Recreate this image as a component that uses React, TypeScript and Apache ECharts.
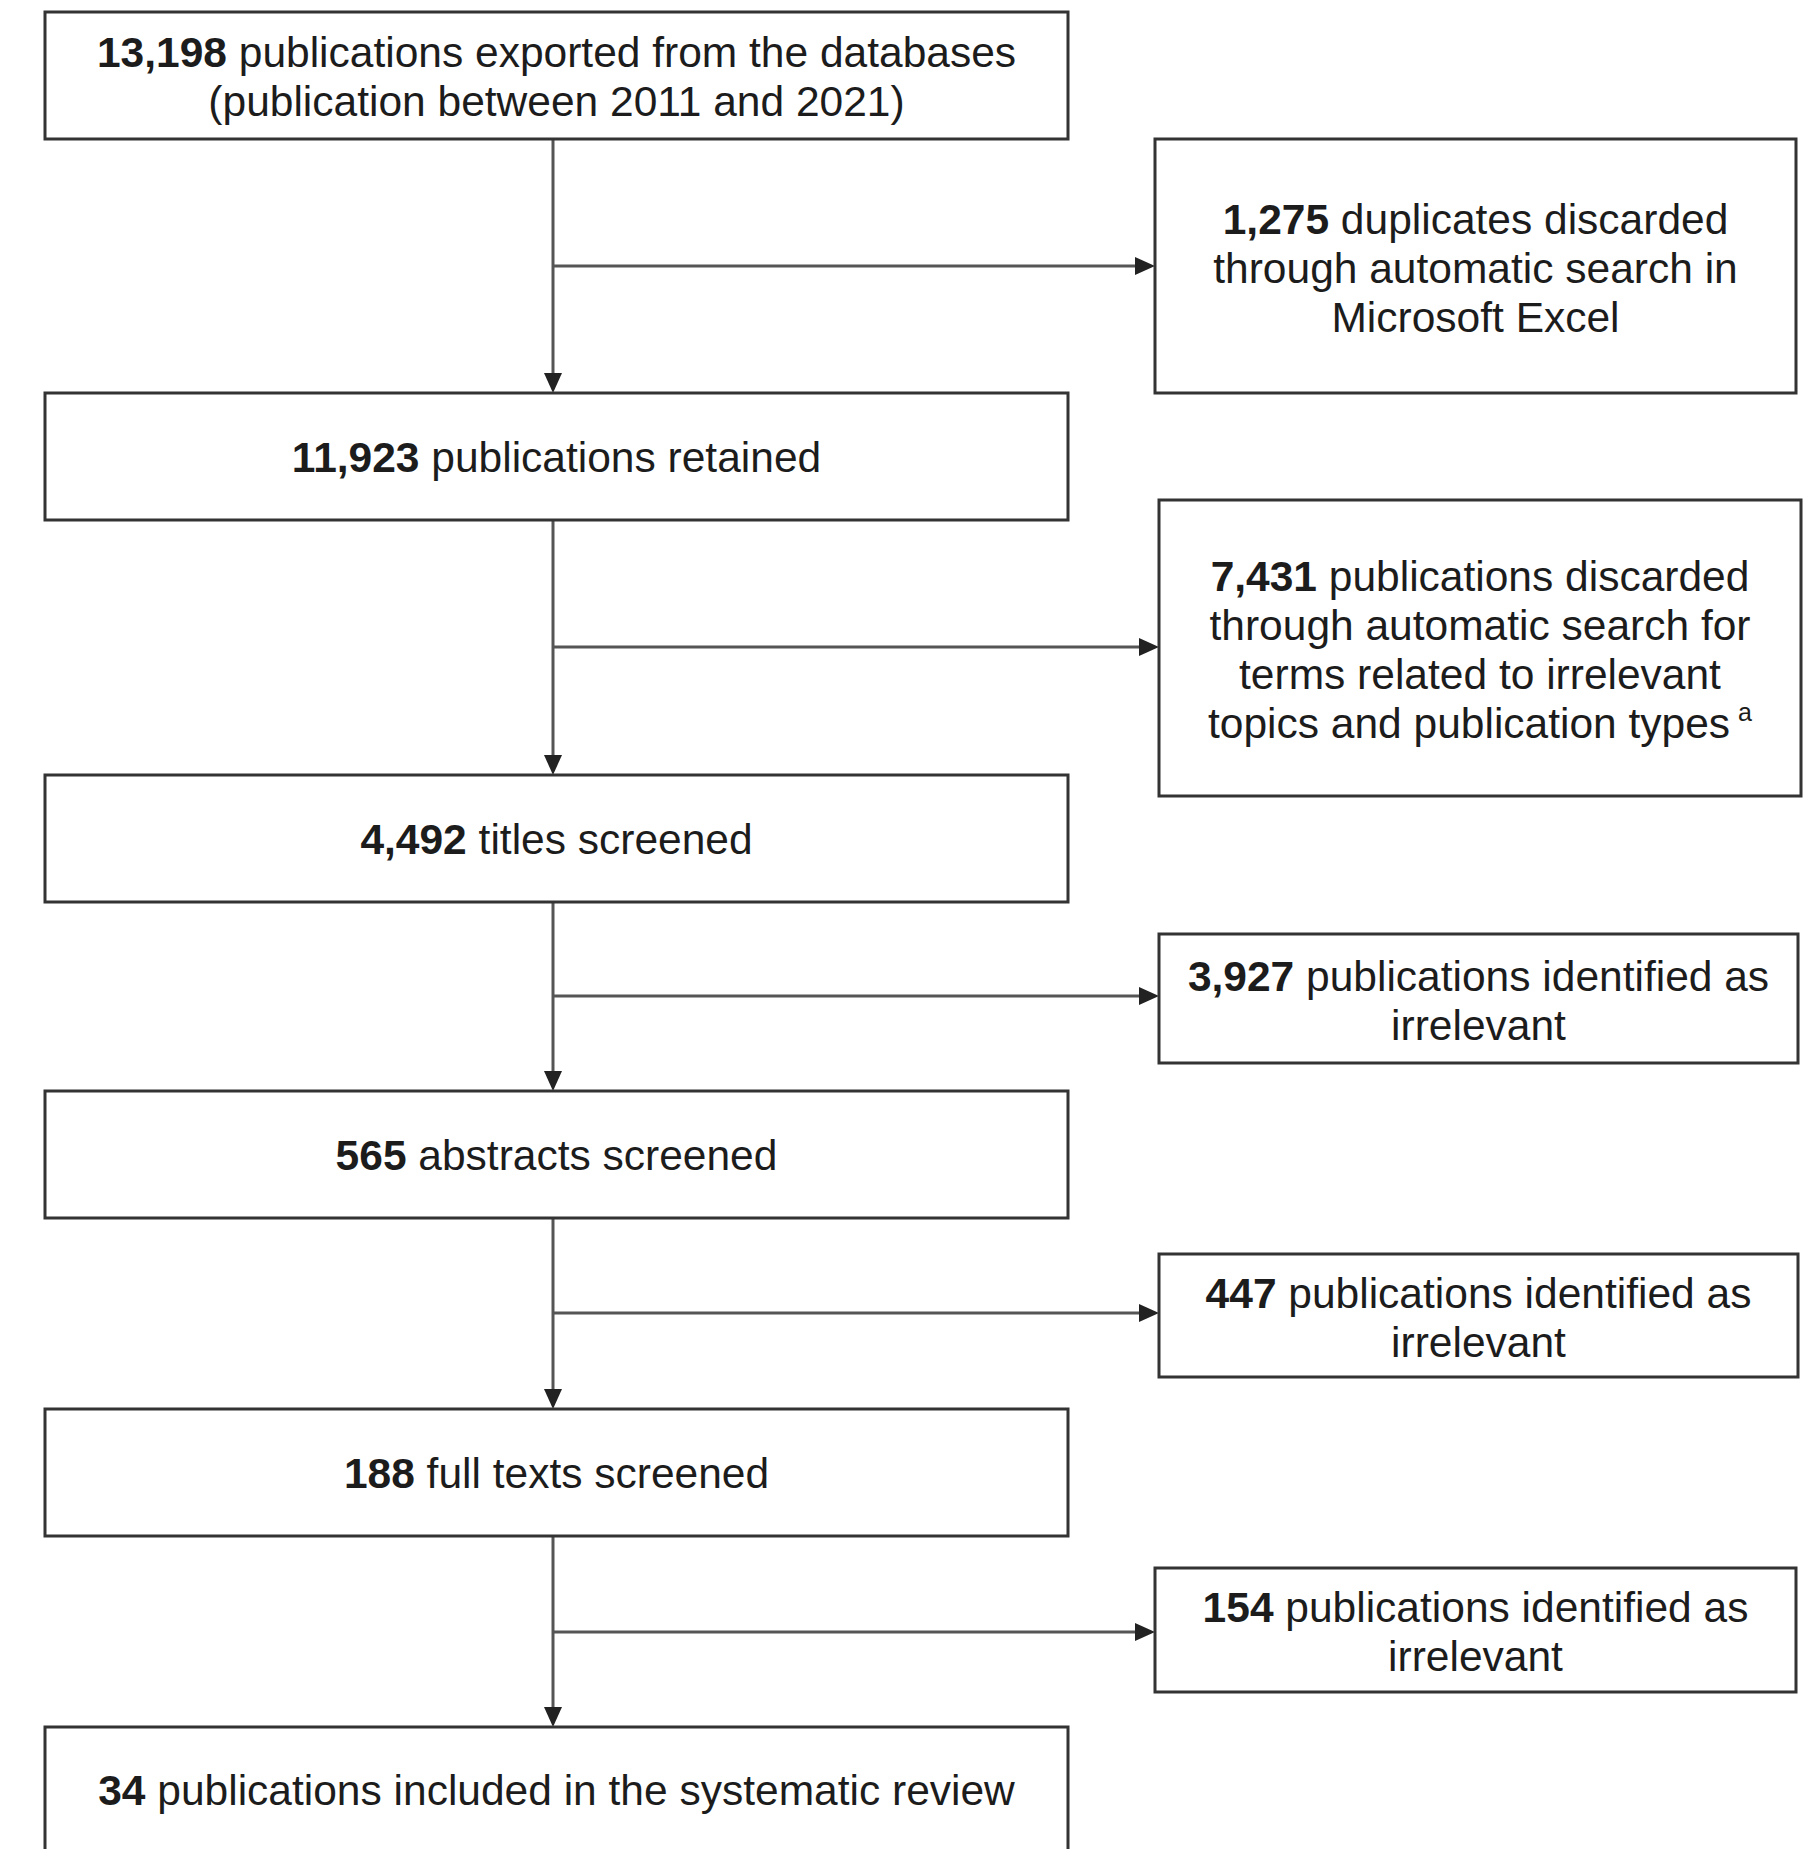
import React, { useEffect, useRef } from "react";
import * as echarts from "echarts";

// Flow data
const mainCounts = ["13,198", "11,923", "4,492", "565", "188", "34"];
const mainTexts = [
  " publications exported from the databases\n(publication between 2011 and 2021)",
  " publications retained",
  " titles screened",
  " abstracts screened",
  " full texts screened",
  " publications included in the systematic review",
];
const excludedCounts = ["1,275", "7,431", "3,927", "447", "154"];
const excludedTexts = [
  " duplicates discarded\nthrough automatic search in\nMicrosoft Excel",
  " publications discarded\nthrough automatic search for\nterms related to irrelevant\ntopics and publication types{sup|a}",
  " publications identified as\nirrelevant",
  " publications identified as\nirrelevant",
  " publications identified as\nirrelevant",
];

// Layout (pixels)
const mainBoxes = [
  { y: 12, h: 127 },
  { y: 393, h: 127 },
  { y: 775, h: 127 },
  { y: 1091, h: 127 },
  { y: 1409, h: 127 },
  { y: 1727, h: 160 },
];
const exBoxes = [
  { x: 1155, w: 641, y: 139, h: 254, arrowY: 266 },
  { x: 1159, w: 642, y: 500, h: 296, arrowY: 647 },
  { x: 1159, w: 639, y: 934, h: 129, arrowY: 996 },
  { x: 1159, w: 639, y: 1254, h: 123, arrowY: 1313 },
  { x: 1155, w: 641, y: 1568, h: 124, arrowY: 1632 },
];

const MAIN_X = 45;
const MAIN_W = 1023;
const TRUNK_X = 553;
const FONT = "'Liberation Sans', Arial, Helvetica, sans-serif";
const FS = 42.5;
const LH = 49;

function App() {
  const ref = useRef<HTMLDivElement>(null);
  useEffect(() => {
    document.body.style.margin = "0";
    if (!ref.current) return;
    const chart = echarts.init(ref.current, undefined, { renderer: "svg" });
    const rich = {
      b: { fontWeight: "bold", fontSize: FS, fontFamily: FONT, fill: "#1c1c1c", lineHeight: LH },
      sup: { fontSize: 25, fontFamily: FONT, fill: "#1c1c1c", lineHeight: LH, verticalAlign: "top", padding: [0, 0, 0, 8] },
    };
    const els: any[] = [];
    const lineStyle = { stroke: "#555", lineWidth: 3 };
    const boxStyle = { fill: "#fff", stroke: "#333", lineWidth: 3 };
    const arrowDown = (x: number, y: number) => ({
      type: "polygon",
      shape: { points: [[x - 9, y - 20], [x + 9, y - 20], [x, y]] },
      style: { fill: "#222" },
    });
    const arrowRight = (x: number, y: number) => ({
      type: "polygon",
      shape: { points: [[x - 20, y - 9], [x - 20, y + 9], [x, y]] },
      style: { fill: "#222" },
    });
    for (let i = 0; i < mainBoxes.length - 1; i++) {
      const y1 = mainBoxes[i].y + mainBoxes[i].h;
      const y2 = mainBoxes[i + 1].y;
      els.push({ type: "line", shape: { x1: TRUNK_X, y1, x2: TRUNK_X, y2: y2 - 10 }, style: lineStyle });
      els.push(arrowDown(TRUNK_X, y2));
      const ex = exBoxes[i];
      els.push({ type: "line", shape: { x1: TRUNK_X, y1: ex.arrowY, x2: ex.x - 10, y2: ex.arrowY }, style: lineStyle });
      els.push(arrowRight(ex.x, ex.arrowY));
    }
    mainBoxes.forEach((b, i) => {
      els.push({ type: "rect", shape: { x: MAIN_X, y: b.y, width: MAIN_W, height: b.h }, style: boxStyle });
      const cy = i === mainBoxes.length - 1 ? 1790 : b.y + b.h / 2 + 1;
      els.push({
        type: "text",
        x: MAIN_X + MAIN_W / 2,
        y: cy,
        style: {
          text: "{b|" + mainCounts[i] + "}" + mainTexts[i],
          rich,
          fontSize: FS,
          fontFamily: FONT,
          lineHeight: LH,
          fill: "#1c1c1c",
          align: "center",
          verticalAlign: "middle",
        },
      });
    });
    exBoxes.forEach((b, i) => {
      els.push({ type: "rect", shape: { x: b.x, y: b.y, width: b.w, height: b.h }, style: boxStyle });
      els.push({
        type: "text",
        x: b.x + b.w / 2,
        y: b.y + b.h / 2 + 2,
        style: {
          text: "{b|" + excludedCounts[i] + "}" + excludedTexts[i],
          rich,
          fontSize: FS,
          fontFamily: FONT,
          lineHeight: LH,
          fill: "#1c1c1c",
          align: "center",
          verticalAlign: "middle",
        },
      });
    });
    chart.setOption({ animation: false, backgroundColor: "#fff", graphic: { elements: els } });
    return () => chart.dispose();
  }, []);
  return <div ref={ref} style={{ width: 1811, height: 1849 }} />;
}

export default App;
